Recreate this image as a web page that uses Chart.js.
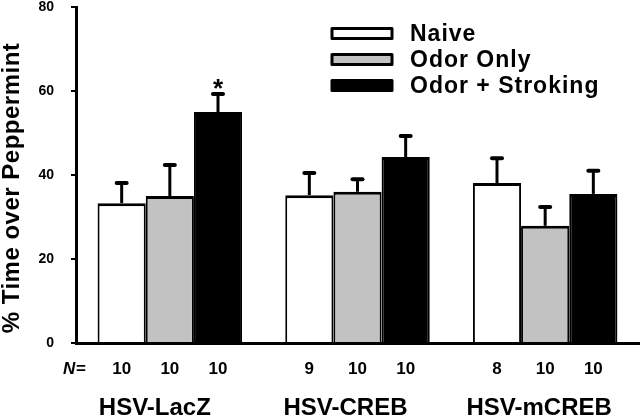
<!DOCTYPE html>
<html lang="en">
<head>
  <meta charset="UTF-8" />
  <title>% Time over Peppermint</title>
  <script src="https://cdn.jsdelivr.net/npm/chart.js"></script>
  <style>
    html, body { margin: 0; padding: 0; background: #fff; }
  </style>
</head>
<body>
  <canvas id="barChart" width="640" height="417"></canvas>

  <script>
    // data
    var groups = ['HSV-LacZ', 'HSV-CREB', 'HSV-mCREB'];
    var seriesNames = ['Naive', 'Odor Only', 'Odor + Stroking'];
    var naive = [33.3, 35.2, 38.1];
    var odorOnly = [35.0, 36.0, 27.9];
    var odorStroking = [55.0, 44.3, 35.5];
    var naiveErr = [4.8, 5.3, 5.9];
    var odorOnlyErr = [7.4, 3.0, 4.5];
    var odorStrokingErr = [4.3, 5.0, 5.5];
    var naiveN = [10, 9, 8];
    var odorOnlyN = [10, 10, 10];
    var odorStrokingN = [10, 10, 10];
    var yTicks = [0, 20, 40, 60, 80];
    var starred = [[2, 0]]; // [series, group] marked with *

    var FONT = "'Liberation Sans', Arial, Helvetica, sans-serif";
    var GRAY = '#c2c2c2';

    // error bars, N row, group names, legend, axis title
    var extras = {
      id: 'extras',
      afterDatasetsDraw: function (chart) {
        var ctx = chart.ctx;
        var y = chart.scales.y;
        var x = chart.scales.x;
        ctx.save();
        ctx.strokeStyle = '#000';
        ctx.fillStyle = '#000';

        chart.data.datasets.forEach(function (ds, i) {
          var meta = chart.getDatasetMeta(i);
          meta.data.forEach(function (bar, j) {
            var top = y.getPixelForValue(ds.data[j]);
            var end = y.getPixelForValue(ds.data[j] + ds.err[j]);
            ctx.lineWidth = 3;
            ctx.lineCap = 'butt';
            ctx.beginPath();
            ctx.moveTo(bar.x, top);
            ctx.lineTo(bar.x, end);
            ctx.stroke();
            ctx.lineWidth = 4;
            ctx.lineCap = 'round';
            ctx.beginPath();
            ctx.moveTo(bar.x - 5, end);
            ctx.lineTo(bar.x + 5, end);
            ctx.stroke();

            // N under each bar
            ctx.font = 'bold 17px ' + FONT;
            ctx.textAlign = 'center';
            ctx.textBaseline = 'middle';
            ctx.fillText(String(ds.n[j]), bar.x, 369);
          });
        });

        // significance star
        ctx.font = 'bold 26px ' + FONT;
        ctx.textAlign = 'center';
        ctx.textBaseline = 'alphabetic';
        starred.forEach(function (s) {
          var ds = chart.data.datasets[s[0]];
          var bar = chart.getDatasetMeta(s[0]).data[s[1]];
          var end = y.getPixelForValue(ds.data[s[1]] + ds.err[s[1]]);
          ctx.fillText('*', bar.x, end + 3);
        });

        // N=
        ctx.textAlign = 'left';
        ctx.textBaseline = 'middle';
        ctx.font = 'italic bold 17px ' + FONT;
        ctx.fillText('N', 63, 369);
        ctx.font = 'bold 17px ' + FONT;
        ctx.fillText('=', 76, 369);

        // group names
        var shift = [-15, -12, -6];
        ctx.font = 'bold 24px ' + FONT;
        ctx.textAlign = 'center';
        ctx.textBaseline = 'alphabetic';
        groups.forEach(function (g, i) {
          ctx.fillText(g, x.getPixelForValue(i) + shift[i], 415);
        });

        // legend
        var fills = chart.data.datasets.map(function (d) { return d.backgroundColor; });
        ctx.font = 'bold 23px ' + FONT;
        ctx.letterSpacing = '1px';
        ctx.textAlign = 'left';
        ctx.textBaseline = 'middle';
        seriesNames.forEach(function (name, i) {
          var cy = 33.5 + i * 26;
          ctx.fillStyle = fills[i];
          ctx.lineWidth = 3;
          ctx.lineJoin = 'round';
          ctx.fillRect(332, cy - 5, 60, 10);
          ctx.strokeRect(332, cy - 5, 60, 10);
          ctx.fillStyle = '#000';
          ctx.fillText(name, 410, cy + 1);
        });

        // y axis title
        ctx.translate(18.5, 188);
        ctx.rotate(-Math.PI / 2);
        ctx.font = 'bold 24px ' + FONT;
        ctx.letterSpacing = '0.5px';
        ctx.textAlign = 'center';
        ctx.textBaseline = 'alphabetic';
        ctx.fillText('% Time over Peppermint', 0, 0);
        ctx.letterSpacing = '0px';
        ctx.restore();
      }
    };

    var ctx = document.getElementById('barChart').getContext('2d');
    new Chart(ctx, {
      type: 'bar',
      data: {
        labels: groups,
        datasets: [
          {
            label: seriesNames[0],
            data: naive,
            err: naiveErr,
            n: naiveN,
            backgroundColor: '#ffffff',
            borderColor: '#000',
            borderWidth: { left: 2, right: 2, top: 3, bottom: 0 }
          },
          {
            label: seriesNames[1],
            data: odorOnly,
            err: odorOnlyErr,
            n: odorOnlyN,
            backgroundColor: GRAY,
            borderColor: '#000',
            borderWidth: { left: 2, right: 2, top: 3, bottom: 0 }
          },
          {
            label: seriesNames[2],
            data: odorStroking,
            err: odorStrokingErr,
            n: odorStrokingN,
            backgroundColor: '#000000',
            borderColor: '#000',
            borderWidth: { left: 2, right: 2, top: 3, bottom: 0 }
          }
        ]
      },
      options: {
        responsive: false,
        animation: false,
        devicePixelRatio: 1,
        layout: { padding: { top: 7, right: 1, left: 0, bottom: 0 } },
        datasets: { bar: { categoryPercentage: 0.77, barPercentage: 1 } },
        plugins: {
          legend: { display: false },
          tooltip: { enabled: false }
        },
        scales: {
          x: {
            grid: { display: false },
            border: { color: '#000', width: 3 },
            ticks: { display: false },
            afterFit: function (s) {
              s.height = 74;
              s.paddingLeft = 0;
              s.paddingRight = 0;
            }
          },
          y: {
            min: 0,
            max: 80,
            afterBuildTicks: function (s) {
              s.ticks = yTicks.map(function (v) { return { value: v }; });
            },
            ticks: {
              color: '#000',
              padding: 17,
              font: { family: FONT, size: 14, weight: 'bold' }
            },
            grid: {
              drawOnChartArea: false,
              drawTicks: true,
              tickLength: 5,
              color: '#000',
              lineWidth: 2
            },
            border: { color: '#000', width: 3 },
            afterFit: function (s) {
              s.width = 76;
              s.paddingTop = 0;
              s.paddingBottom = 0;
            }
          }
        }
      },
      plugins: [extras]
    });
  </script>
</body>
</html>
